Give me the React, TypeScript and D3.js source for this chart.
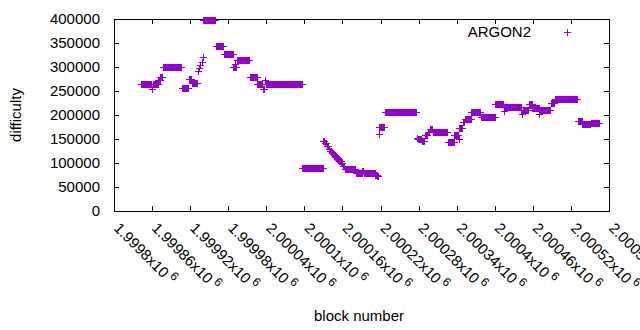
import React from "react";
import * as d3 from "d3";

const seriesName = "ARGON2";

const xTickValues = [
  1999800, 1999860, 1999920, 1999980, 2000040, 2000100, 2000160,
  2000220, 2000280, 2000340, 2000400, 2000460, 2000520, 2000580,
];
const xTickLabels = [
  "1.9998", "1.99986", "1.99992", "1.99998", "2.00004", "2.0001", "2.00016",
  "2.00022", "2.00028", "2.00034", "2.0004", "2.00046", "2.00052", "2.00058",
];
const yTickValues = [0, 50000, 100000, 150000, 200000, 250000, 300000, 350000, 400000];

// difficulty, as runs of blocks: [first block, last block, difficulty]
const runs: [number, number, number][] = [
  [1999843, 1999859, 265000],
  [1999860, 1999860, 255000],
  [1999861, 1999869, 265000],
  [1999870, 1999872, 273000],
  [1999873, 1999876, 280000],
  [1999877, 1999906, 301000],
  [1999907, 1999917, 256000],
  [1999918, 1999922, 275000],
  [1999923, 1999931, 267000],
  [1999932, 1999932, 292000],
  [1999934, 1999934, 297000],
  [1999936, 1999936, 304000],
  [1999938, 1999938, 311000],
  [1999940, 1999940, 321000],
  [1999941, 1999959, 397000],
  [1999960, 1999972, 343000],
  [1999973, 1999987, 327000],
  [1999988, 1999989, 301000],
  [1999990, 1999990, 306000],
  [1999991, 1999993, 301000],
  [1999994, 2000013, 314000],
  [2000014, 2000025, 280000],
  [2000026, 2000033, 265000],
  [2000034, 2000037, 254000],
  [2000038, 2000038, 272000],
  [2000039, 2000096, 264000],
  [2000097, 2000129, 89000],
  [2000130, 2000131, 146000],
  [2000132, 2000134, 141000],
  [2000135, 2000137, 135000],
  [2000138, 2000139, 130000],
  [2000140, 2000142, 125000],
  [2000143, 2000145, 121000],
  [2000146, 2000148, 117000],
  [2000149, 2000151, 113000],
  [2000152, 2000154, 109000],
  [2000155, 2000157, 104000],
  [2000158, 2000160, 99000],
  [2000161, 2000163, 94000],
  [2000164, 2000180, 87000],
  [2000181, 2000190, 80000],
  [2000191, 2000193, 83000],
  [2000194, 2000198, 80000],
  [2000199, 2000211, 79000],
  [2000212, 2000214, 75000],
  [2000215, 2000216, 72000],
  [2000217, 2000217, 160000],
  [2000218, 2000226, 175000],
  [2000227, 2000276, 207000],
  [2000277, 2000278, 152000],
  [2000279, 2000284, 149000],
  [2000285, 2000289, 145000],
  [2000290, 2000293, 158000],
  [2000294, 2000297, 165000],
  [2000298, 2000301, 170000],
  [2000302, 2000325, 164000],
  [2000326, 2000335, 144000],
  [2000336, 2000342, 158000],
  [2000343, 2000343, 151000],
  [2000344, 2000349, 173000],
  [2000350, 2000352, 185000],
  [2000353, 2000362, 192000],
  [2000363, 2000377, 207000],
  [2000378, 2000400, 195000],
  [2000401, 2000413, 222000],
  [2000414, 2000414, 208000],
  [2000415, 2000441, 217000],
  [2000442, 2000442, 210000],
  [2000443, 2000443, 203000],
  [2000444, 2000453, 210000],
  [2000454, 2000458, 222000],
  [2000459, 2000469, 215000],
  [2000470, 2000470, 202000],
  [2000471, 2000487, 210000],
  [2000488, 2000494, 226000],
  [2000495, 2000530, 233000],
  [2000531, 2000537, 187000],
  [2000538, 2000550, 182000],
  [2000551, 2000565, 184000],
];

const color = "#9400d3";
const font = "'Liberation Sans', Arial, sans-serif";

function plus(px: number, py: number) {
  return `M${px - 3.5},${py}h7M${px},${py - 3.5}v7`;
}

export default function App() {
  const width = 640;
  const height = 330;
  const left = 114, right = 609, top = 19, bottom = 211;

  const x = d3.scaleLinear().domain([1999800, 2000580]).range([left, right]);
  const y = d3.scaleLinear().domain([0, 400000]).range([bottom, top]);

  const points = runs.flatMap(([a, b, v]) => d3.range(a, b + 1).map((n) => [n, v]));
  const markers = points
    .map(([n, v]) => plus(Math.round(x(n)) + 0.5, Math.round(y(v)) + 0.5))
    .join("");

  return (
    <svg
      width={width}
      height={height}
      style={{ position: "absolute", left: 0, top: 0, background: "#fff" }}
      fontFamily={font}
      fontSize={15}
    >
      <g stroke="#000" strokeWidth={1} shapeRendering="crispEdges">
        {xTickValues.map((t) => {
          const tx = Math.round(x(t)) + 0.5;
          return (
            <g key={t}>
              <line x1={tx} x2={tx} y1={bottom} y2={bottom - 5} />
              <line x1={tx} x2={tx} y1={top} y2={top + 5} />
            </g>
          );
        })}
        {yTickValues.map((t) => {
          const ty = Math.round(y(t)) + 0.5;
          return (
            <g key={t}>
              <line x1={left} x2={left + 5} y1={ty} y2={ty} />
              <line x1={right} x2={right - 5} y1={ty} y2={ty} />
            </g>
          );
        })}
        <rect x={left + 0.5} y={top + 0.5} width={right - left} height={bottom - top} fill="none" />
      </g>

      {yTickValues.map((t) => (
        <text key={t} x={100} y={y(t)} dy="0.35em" textAnchor="end" fill="#000">
          {t}
        </text>
      ))}

      {xTickValues.map((t, i) => (
        <text
          key={t}
          transform={`translate(${x(t) - 1},229) rotate(45)`}
          fill="#000"
        >
          {xTickLabels[i]}x10
          <tspan fontSize={12} dy={-6}>{" 6"}</tspan>
        </text>
      ))}

      <text x={359} y={321} textAnchor="middle" fill="#000">block number</text>
      <text transform="translate(21,115) rotate(-90)" textAnchor="middle" fill="#000">
        difficulty
      </text>

      <text x={531} y={32} dy="0.35em" textAnchor="end" fill="#000">{seriesName}</text>
      <path d={plus(567.5, 32.5)} stroke={color} strokeWidth={1} fill="none" shapeRendering="crispEdges" />

      <path d={markers} stroke={color} strokeWidth={1} fill="none" shapeRendering="crispEdges" />
    </svg>
  );
}
